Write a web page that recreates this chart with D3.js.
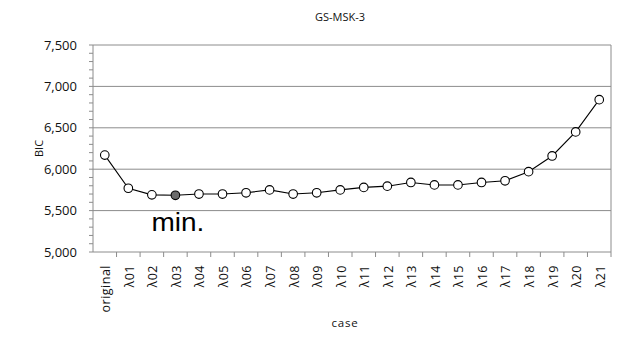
<!DOCTYPE html>
<html>
<head>
<meta charset="utf-8">
<script src="https://cdn.jsdelivr.net/npm/d3@7"></script>
<style>
  html, body { margin: 0; padding: 0; background: #fff; }
  svg { display: block; }
</style>
</head>
<body>
<script>
// BIC per case for GS-MSK-3
const categories = ["original", "λ01", "λ02", "λ03", "λ04", "λ05", "λ06", "λ07", "λ08", "λ09", "λ10",
  "λ11", "λ12", "λ13", "λ14", "λ15", "λ16", "λ17", "λ18", "λ19", "λ20", "λ21"];
const bicValues = [6170, 5770, 5690, 5685, 5700, 5700, 5715, 5750, 5700, 5715, 5750,
  5780, 5795, 5840, 5810, 5810, 5840, 5860, 5970, 6160, 6450, 6840];
const yTicks = [5000, 5500, 6000, 6500, 7000, 7500];
const minLabel = "min.";

const W = 621, H = 345;
const plotL = 93, plotR = 611, plotT = 45, plotB = 252;

const svg = d3.select("body").append("svg").attr("width", W).attr("height", H);

const x = d3.scaleBand().domain(categories).range([plotL, plotR]).padding(0);
const y = d3.scaleLinear().domain([5000, 7500]).range([plotB, plotT]);

const fmt = d3.format(",");
const font = "'Open Sans', 'Noto Sans', sans-serif";

// horizontal gridlines
svg.append("g")
  .selectAll("line")
  .data(yTicks.slice(1))
  .join("line")
  .attr("x1", plotL).attr("x2", plotR)
  .attr("y1", d => y(d)).attr("y2", d => y(d))
  .attr("stroke", "#8c8c8c").attr("stroke-width", 1);

// right frame edge
svg.append("line")
  .attr("x1", plotR).attr("x2", plotR).attr("y1", plotT).attr("y2", plotB)
  .attr("stroke", "#8c8c8c").attr("stroke-width", 1);

// y axis with minor ticks every 100
const yAxis = svg.append("g").attr("transform", `translate(${plotL},0)`);
yAxis.append("line").attr("x1", 0).attr("x2", 0).attr("y1", plotT).attr("y2", plotB)
  .attr("stroke", "#8c8c8c");
yAxis.selectAll("line.minor")
  .data(d3.range(5000, 7501, 100))
  .join("line").attr("class", "minor")
  .attr("x1", -4).attr("x2", 0)
  .attr("y1", d => y(d)).attr("y2", d => y(d))
  .attr("stroke", "#8c8c8c");
yAxis.selectAll("text")
  .data(yTicks)
  .join("text")
  .attr("x", -16).attr("y", d => y(d))
  .attr("dy", "0.35em")
  .attr("text-anchor", "end")
  .attr("font-family", font).attr("font-size", 13).attr("fill", "#111")
  .text(d => fmt(d));

// x axis with ticks between categories
const xAxis = svg.append("g").attr("transform", `translate(0,${plotB})`);
xAxis.append("line").attr("x1", plotL).attr("x2", plotR).attr("stroke", "#8c8c8c");
xAxis.selectAll("line.tick")
  .data(categories)
  .join("line").attr("class", "tick")
  .attr("x1", d => x(d) + x.bandwidth()).attr("x2", d => x(d) + x.bandwidth())
  .attr("y1", 0).attr("y2", 5)
  .attr("stroke", "#8c8c8c");
xAxis.selectAll("text")
  .data(categories)
  .join("text")
  .attr("transform", d => `translate(${x(d) + x.bandwidth() / 2 + 1},13) rotate(-90)`)
  .attr("dy", "0.35em")
  .attr("text-anchor", "end")
  .attr("font-family", font).attr("font-size", 12.5).attr("letter-spacing", 0.5)
  .attr("fill", "#111")
  .text(d => d);

// line and markers
const cx = d => x(d) + x.bandwidth() / 2;
const data = categories.map((c, i) => ({ c, v: bicValues[i] }));
const minIdx = d3.minIndex(bicValues);

svg.append("path")
  .datum(data)
  .attr("fill", "none").attr("stroke", "#000").attr("stroke-width", 1.1)
  .attr("d", d3.line().x(d => cx(d.c)).y(d => y(d.v)));

svg.append("g")
  .selectAll("circle")
  .data(data)
  .join("circle")
  .attr("cx", d => cx(d.c)).attr("cy", d => y(d.v))
  .attr("r", 4.3)
  .attr("fill", (d, i) => i === minIdx ? "#6b6b6b" : "#fff")
  .attr("stroke", "#000").attr("stroke-width", 1.1);

// annotation under the minimum
svg.append("text")
  .attr("transform", `translate(${cx(categories[minIdx]) - 24},${y(bicValues[minIdx]) + 36}) scale(1.12,1)`)
  .attr("font-family", "'Liberation Sans', Arial, sans-serif").attr("font-size", 25)
  .attr("fill", "#000")
  .text(minLabel);

// title and axis titles
svg.append("text")
  .attr("x", 340).attr("y", 21).attr("text-anchor", "middle")
  .attr("font-family", font).attr("font-size", 11).attr("fill", "#111")
  .text("GS-MSK-3");

svg.append("text")
  .attr("transform", `translate(39,${(plotT + plotB) / 2}) rotate(-90)`)
  .attr("text-anchor", "middle").attr("dy", "0.35em")
  .attr("font-family", font).attr("font-size", 11).attr("fill", "#111")
  .text("BIC");

svg.append("text")
  .attr("x", 345).attr("y", 327).attr("text-anchor", "middle")
  .attr("font-family", font).attr("font-size", 11.5).attr("letter-spacing", 0.8)
  .attr("fill", "#111")
  .text("case");
</script>
</body>
</html>
